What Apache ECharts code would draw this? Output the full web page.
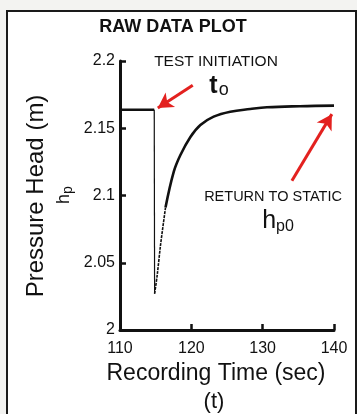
<!DOCTYPE html>
<html>
<head>
<meta charset="utf-8">
<script src="https://cdn.jsdelivr.net/npm/echarts@6/dist/echarts.min.js"></script>
<style>
  html, body { margin: 0; padding: 0; background: #f3f3f1; }
  #chart { width: 357px; height: 414px; }
</style>
</head>
<body>
<div id="chart"></div>
<script>
// tick labels
const timeTicks = [110, 120, 130, 140];
const headTicks = [2, 2.05, 2.1, 2.15, 2.2];

// before the test: static head
const timeStatic = [110, 114.8];
const headStatic = [2.1638, 2.1638];

// sudden drop at test initiation
const timeDrop = [114.8, 114.85];
const headDrop = [2.1638, 2.027];

// recovery, lower (thin) part
const timeRecoverLow = [114.85, 115.22, 115.68, 116.38];
const headRecoverLow = [2.027, 2.041, 2.063, 2.091];

// recovery, upper part back to static
const timeRecoverHigh = [116.38, 117.54, 118.47, 119.87, 121.27, 123.13, 125.46, 128.25, 130.6, 135.2, 140];
const headRecoverHigh = [2.091, 2.1177, 2.1301, 2.1435, 2.1524, 2.1586, 2.1623, 2.1643, 2.1656, 2.1664, 2.1668];

// arrows: [tail, head] in data coords
const arrowInit = [[120.2, 2.182], [115.3, 2.165]];
const arrowStatic = [[134.1, 2.111], [139.7, 2.1605]];

const FONT = "'Liberation Sans', Arial, sans-serif";
const RED = "#e3211f";

const zip = (a, b) => a.map((v, i) => [v, b[i]]);

const chart = echarts.init(document.getElementById("chart"));

chart.setOption({
  backgroundColor: "#f3f3f1",
  animation: false,
  grid: {
    left: 120,
    right: 23,
    top: 61,
    bottom: 84
  },
  xAxis: {
    type: "value",
    min: timeTicks[0],
    max: timeTicks[timeTicks.length - 1],
    interval: 10,
    axisLine: { lineStyle: { color: "#111", width: 3 } },
    axisTick: { inside: true, length: 6, lineStyle: { color: "#111", width: 2.5 } },
    axisLabel: { color: "#111", fontSize: 16, fontFamily: FONT, margin: 11 },
    splitLine: { show: false }
  },
  yAxis: {
    type: "value",
    min: headTicks[0],
    max: headTicks[headTicks.length - 1],
    interval: 0.05,
    axisLine: { show: true, lineStyle: { color: "#111", width: 3 } },
    axisTick: { show: true, inside: true, length: 6, lineStyle: { color: "#111", width: 2.5 } },
    axisLabel: { color: "#111", fontSize: 16, fontFamily: FONT, margin: 5 },
    splitLine: { show: false }
  },
  series: [
    {
      type: "line",
      data: zip(timeStatic, headStatic),
      showSymbol: false,
      lineStyle: { color: "#111", width: 2.5 }
    },
    {
      type: "line",
      data: zip(timeDrop, headDrop),
      showSymbol: false,
      lineStyle: { color: "#111", width: 1.2 }
    },
    {
      type: "line",
      data: zip(timeRecoverLow, headRecoverLow),
      showSymbol: false,
      smooth: 0.3,
      lineStyle: { color: "#111", width: 1.6, type: [3, 1] }
    },
    {
      type: "line",
      data: zip(timeRecoverHigh, headRecoverHigh),
      showSymbol: false,
      smooth: 0.4,
      lineStyle: { color: "#111", width: 2.6 },
      markLine: {
        silent: true,
        symbol: ["none", "arrow"],
        symbolSize: [13, 15],
        label: { show: false },
        lineStyle: { color: RED, width: 3, type: "solid" },
        data: [
          [{ coord: arrowInit[0] }, { coord: arrowInit[1] }],
          [{ coord: arrowStatic[0] }, { coord: arrowStatic[1] }]
        ]
      }
    }
  ],
  graphic: [
    {
      type: "rect",
      z: -10,
      shape: { x: 7, y: 11, width: 349, height: 420 },
      style: { fill: "#fff", stroke: "#1a1a1a", lineWidth: 2 }
    },
    {
      type: "text",
      x: 173, y: 27,
      style: { text: "RAW DATA PLOT", fontSize: 18, fontWeight: "bold", fontFamily: FONT, fill: "#111", align: "center", verticalAlign: "middle" }
    },
    {
      type: "text",
      x: 36, y: 196, rotation: Math.PI / 2,
      style: { text: "Pressure Head (m)", fontSize: 24, fontFamily: FONT, fill: "#111", align: "center", verticalAlign: "middle" }
    },
    {
      type: "text",
      x: 64, y: 195, rotation: Math.PI / 2,
      style: {
        text: "{h|h}{s|p}",
        align: "center", verticalAlign: "middle",
        rich: {
          h: { fontSize: 18, fontFamily: FONT, fill: "#111" },
          s: { fontSize: 14, fontFamily: FONT, fill: "#111", padding: [9, 0, 0, 0] }
        }
      }
    },
    {
      type: "text",
      x: 216, y: 374,
      style: { text: "Recording Time (sec)", fontSize: 23, fontFamily: FONT, fill: "#111", align: "center", verticalAlign: "middle" }
    },
    {
      type: "text",
      x: 214, y: 402,
      style: { text: "(t)", fontSize: 22, fontFamily: FONT, fill: "#111", align: "center", verticalAlign: "middle" }
    },
    {
      type: "text",
      x: 216, y: 62,
      style: { text: "TEST INITIATION", fontSize: 15.5, fontFamily: FONT, fill: "#111", align: "center", verticalAlign: "middle" }
    },
    {
      type: "text",
      x: 219, y: 86,
      style: {
        text: "{t|t}{s|o}",
        align: "center", verticalAlign: "middle",
        rich: {
          t: { fontSize: 25, fontWeight: "bold", fontFamily: FONT, fill: "#111" },
          s: { fontSize: 18, fontFamily: FONT, fill: "#111", padding: [9, 0, 0, 1] }
        }
      }
    },
    {
      type: "text",
      x: 273, y: 197,
      style: { text: "RETURN TO STATIC", fontSize: 14.5, fontFamily: FONT, fill: "#111", align: "center", verticalAlign: "middle" }
    },
    {
      type: "text",
      x: 278, y: 221,
      style: {
        text: "{h|h}{s|p0}",
        align: "center", verticalAlign: "middle",
        rich: {
          h: { fontSize: 25, fontFamily: FONT, fill: "#111" },
          s: { fontSize: 16, fontFamily: FONT, fill: "#111", padding: [11, 0, 0, 0] }
        }
      }
    }
  ]
});
</script>
</body>
</html>
